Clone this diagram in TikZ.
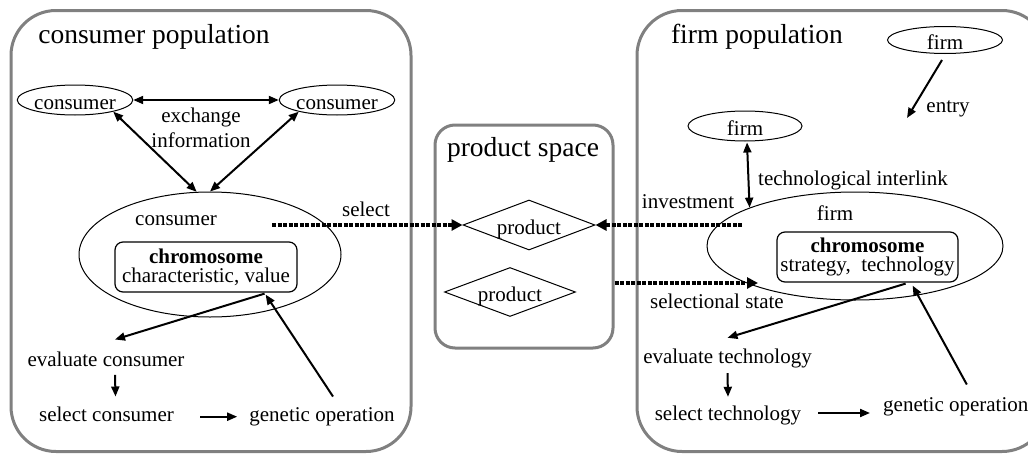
\documentclass[tikz,border=0pt]{standalone}
\usepackage{fontspec}
\setmainfont{Liberation Serif}
\usetikzlibrary{shapes.geometric,arrows.meta}
\definecolor{popgray}{RGB}{128,128,128}
\begin{document}
\begin{tikzpicture}[x=1pt,y=-1pt,
  pop/.style={draw=popgray, line width=3pt, rounded corners=45pt, inner sep=0pt},
  f/.style={inner sep=0pt, font=\fontsize{21}{25}\selectfont},
  lbl/.style={f, text height=15pt, text depth=5pt},
  ttl/.style={inner sep=0pt, font=\fontsize{27.5}{30}\selectfont, text height=19pt, text depth=6pt},
  ell/.style={draw, ellipse, line width=1pt, inner sep=0pt, font=\fontsize{21}{25}\selectfont, text height=19pt, text depth=0pt},
  bigell/.style={draw, ellipse, line width=1pt, inner sep=0pt},
  dia/.style={draw, diamond, aspect=2.6, line width=1pt, inner sep=0pt, font=\fontsize{21}{25}\selectfont, text height=19pt, text depth=0pt},
  chrom/.style={draw, rounded corners=8pt, line width=1.2pt, inner sep=0pt, align=center, font=\fontsize{21}{19}\selectfont},
  arr/.style={line width=2pt, -{Triangle[length=10pt,width=8pt]}},
  darr/.style={line width=2pt, {Triangle[length=10pt,width=8pt]}-{Triangle[length=10pt,width=8pt]}},
  dots/.style={line width=4pt, dash pattern=on 4pt off 1.5pt, -{Triangle[length=11pt,width=11pt]}}
]
\useasboundingbox (0,0) rectangle (1028,455);
\clip (0,0) rectangle (1028,455);

% containers
\node[pop, minimum width=400pt, minimum height=441pt] (cpop) at (211,231) {};
\node[pop, minimum width=410pt, minimum height=441pt] (fpop) at (842,231) {};
\node[pop, rounded corners=20pt, minimum width=178pt, minimum height=223pt] (pspace) at (524,236.5) {};

% titles
\node[ttl] (cpopT) at (154,37) {consumer population};
\node[ttl] (fpopT) at (757,37) {firm population};
\node[ttl] (pspT) at (523,150) {product space};

% consumer side
\node[ell, minimum width=114pt, minimum height=30pt] (cL) at (75,100) {consumer};
\node[ell, minimum width=114pt, minimum height=30pt] (cR) at (337,100) {consumer};
\node[f, align=center] (exch) at (201,128) {exchange\\information};
\node[bigell, minimum width=262pt, minimum height=125pt] (cbig) at (210,254.5) {};
\node[lbl] (cbigT) at (176,220) {consumer};
\node[chrom, minimum width=182pt, minimum height=50pt] (cchrom) at (206,267) {\textbf{chromosome}\\characteristic, value};
\node[lbl] (evalC) at (106,361.7) {evaluate consumer};
\node[lbl] (selC) at (106.5,416.7) {select consumer};
\node[lbl] (gopL) at (322,416.7) {genetic operation};

\draw[darr] (cL) -- (cR);
\draw[darr] (cL.-17) -- (cbig.102);
\draw[darr] (cR.-163) -- (cbig.north);
\draw[arr] ([xshift=-33pt,yshift=-1pt]cchrom.south east) -- ([xshift=9pt,yshift=12pt]evalC.north);
\draw[arr] ([xshift=11pt,yshift=10pt]gopL.north) -- ([xshift=-32pt,yshift=-2pt]cchrom.south east);
\draw[arr] ([xshift=9pt,yshift=-3pt]evalC.south) -- ([xshift=9pt,yshift=10pt]selC.north);
\draw[arr, shorten <=26pt, shorten >=12pt] (selC.east) -- (gopL.west);

% product space
\node[dia, minimum width=132pt, minimum height=50pt] (p1) at (529,225) {product};
\node[dia, minimum width=131pt, minimum height=49pt] (p2) at (510,292) {product};

% firm side
\node[ell, minimum width=115pt, minimum height=27pt] (fT) at (945,40) {firm};
\node[ell, minimum width=114pt, minimum height=30pt] (fM) at (745,126) {firm};
\node[lbl] (entry) at (948,107) {entry};
\node[lbl] (tech) at (853,180) {technological interlink};
\node[bigell, minimum width=296pt, minimum height=108pt] (fbig) at (855,246) {};
\node[lbl] (fbigT) at (835,215) {firm};
\node[chrom, minimum width=181pt, minimum height=50pt] (fchrom) at (867.5,257) {\textbf{chromosome}\\strategy,\ \ technology};
\node[lbl] (selS) at (717,303) {selectional state};
\node[lbl] (evalT) at (727.5,358) {evaluate technology};
\node[lbl] (selT) at (728,415) {select technology};
\node[lbl, anchor=west] (gopR) at (883,406.7) {genetic operation};

\coordinate (entryEnd) at (907,118);
\draw[arr] ([xshift=-3pt,yshift=-6pt]fT.south) -- (entryEnd);
\draw[darr] ([xshift=2pt,yshift=-1pt]fM.south) -- (fbig.160);
\draw[arr] ([xshift=-53pt,yshift=-1pt]fchrom.south east) -- ([yshift=10pt]evalT.north);
\draw[arr] ([xshift=11pt,yshift=12pt]gopR.north) -- ([xshift=-46pt,yshift=-3pt]fchrom.south east);
\draw[arr] ([yshift=-5pt]evalT.south) -- ([yshift=8pt]selT.north);
\coordinate (ga) at (selT.east -| gopR.west);
\draw[arr] ([xshift=17pt,yshift=2pt]selT.east) -- ([xshift=-13pt,yshift=2pt]ga);

% dotted connectors
\coordinate (selStart) at (272,225);
\coordinate (invStart) at (742,225);
\coordinate (selEnd) at (758,283);
\node[lbl] (selL) at (366,211.7) {select};
\node[lbl] (invL) at (688,203) {investment};
\draw[dots] (selStart) -- (p1.west);
\draw[dots] (invStart) -- (p1.east);
\draw[dots] (pspace.east |- selEnd) -- (selEnd);
\end{tikzpicture}
\end{document}
